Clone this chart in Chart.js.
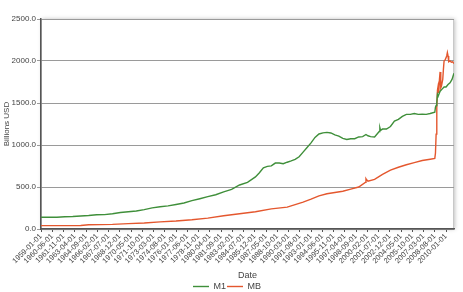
<!DOCTYPE html>
<html>
<head>
<meta charset="utf-8">
<script src="https://cdn.jsdelivr.net/npm/chart.js@4"></script>
<style>
  body { margin: 0; background: #fff; }
  #chart { display: block; }
</style>
</head>
<body>
<canvas id="chart" width="463" height="292"></canvas>
<script>
// M1 and monetary base, billions USD
const m1Dates = ['1959-01','1960-01','1961-01','1962-01','1963-01','1964-01','1965-01','1966-01','1967-01','1968-01',
  '1969-01','1970-01','1971-01','1972-01','1973-01','1974-01','1975-01','1976-01','1977-01','1978-01',
  '1979-01','1980-01','1981-01','1982-01','1983-01','1984-01','1985-01','1986-01','1986-07','1987-01',
  '1987-07','1988-01','1988-07','1989-01','1989-07','1990-01','1990-07','1991-01','1991-07','1992-01',
  '1992-07','1993-01','1993-07','1994-01','1994-07','1995-01','1995-07','1996-01','1996-07','1997-01',
  '1997-07','1998-01','1998-07','1999-01','1999-07','1999-12','2000-03','2000-07','2001-01','2001-08',
  '2001-09','2001-10','2002-01','2002-07','2003-01','2003-07','2004-01','2004-07','2005-01','2005-07',
  '2006-01','2006-07','2007-01','2007-07','2008-01','2008-08','2008-09','2008-10','2008-11','2008-12',
  '2009-01','2009-04','2009-07','2009-10','2010-01','2010-04','2010-07','2010-10','2010-12','2011-01'];
const m1Values = [139,140,140,145,148,154,160,169,171,182,
  197,205,214,230,251,265,275,292,310,337,
  360,385,408,442,472,524,556,620,670,728,
  745,752,785,786,777,795,810,828,860,915,
  970,1025,1090,1131,1145,1150,1143,1120,1105,1078,
  1065,1075,1075,1096,1100,1125,1110,1100,1095,1160,
  1205,1175,1190,1190,1220,1285,1305,1340,1365,1365,
  1375,1365,1367,1365,1375,1390,1450,1470,1510,1600,
  1580,1640,1665,1690,1690,1720,1740,1780,1830,1855];

const mbDates = ['1959-01','1964-01','1965-01','1968-01','1970-01','1972-01','1974-01','1976-01','1978-01','1980-01',
  '1982-01','1984-01','1986-01','1988-01','1990-01','1991-01','1992-01','1993-01','1994-01','1995-01',
  '1996-01','1997-01','1998-01','1999-01','1999-11','1999-12','2000-01','2000-03','2001-01','2002-01',
  '2003-01','2004-01','2005-01','2006-01','2007-01','2008-01','2008-08','2008-09','2008-10','2008-11',
  '2008-12','2009-01','2009-02','2009-03','2009-04','2009-05','2009-06','2009-08','2009-09','2009-10',
  '2009-12','2010-02','2010-03','2010-04','2010-05','2010-07','2010-09','2010-11','2011-01'];
const mbValues = [40,42,50,55,64,72,85,95,110,130,
  158,182,205,240,260,290,320,355,395,420,
  435,450,475,500,555,598,585,570,590,650,
  700,735,765,790,815,830,840,905,1130,1450,
  1650,1700,1620,1780,1870,1680,1700,1780,1900,2000,
  2020,2060,2100,2060,1990,2000,1985,1990,1970];

const yTicks = [0, 500, 1000, 1500, 2000, 2500];
const firstYear = 1959;
const tickStep = 17;   // months between date labels
const lastMonth = 624; // 2011-01

function monthIndex(d) {
  const [y, m] = d.split('-').map(Number);
  return (y - firstYear) * 12 + (m - 1);
}

function monthLabel(i) {
  const y = firstYear + Math.floor(i / 12);
  const m = (i % 12) + 1;
  return y + '-' + String(m).padStart(2, '0') + '-01';
}

function toPoints(dates, values) {
  return dates.map((d, i) => ({ x: monthIndex(d), y: values[i] }));
}

const xTicks = [];
for (let i = 0; i <= lastMonth; i += tickStep) xTicks.push(i);

// light frame with a soft shadow around the plot area
const frame = {
  id: 'frame',
  beforeDraw(chart) {
    const { ctx, chartArea: a } = chart;
    ctx.save();
    ctx.shadowColor = 'rgba(0,0,0,0.25)';
    ctx.shadowBlur = 4;
    ctx.shadowOffsetX = 1;
    ctx.shadowOffsetY = 0;
    ctx.fillStyle = '#fff';
    ctx.fillRect(a.left, a.top, a.right - a.left, a.bottom - a.top);
    ctx.restore();
    ctx.save();
    ctx.strokeStyle = '#c8c8c8';
    ctx.lineWidth = 1;
    ctx.strokeRect(a.left + 0.5, a.top + 0.5, a.right - a.left - 1, a.bottom - a.top);
    ctx.restore();
  }
};

const font = { family: 'Liberation Sans, Arial, sans-serif', size: 8 };

new Chart(document.getElementById('chart'), {
  type: 'line',
  data: {
    datasets: [
      {
        label: 'M1',
        data: toPoints(m1Dates, m1Values),
        borderColor: '#3f8f3a',
        backgroundColor: '#3f8f3a',
        borderWidth: 1.4,
        pointRadius: 0,
        tension: 0
      },
      {
        label: 'MB',
        data: toPoints(mbDates, mbValues),
        borderColor: '#e4572e',
        backgroundColor: '#e4572e',
        borderWidth: 1.4,
        pointRadius: 0,
        tension: 0
      }
    ]
  },
  options: {
    responsive: false,
    animation: false,
    layout: { padding: { top: 19, right: 9, left: 0, bottom: -9 } },
    plugins: {
      legend: {
        position: 'bottom',
        labels: {
          usePointStyle: true,
          pointStyle: 'line',
          pointStyleWidth: 16,
          boxHeight: 6,
          padding: 1,
          color: '#444',
          font: { family: font.family, size: 9 }
        }
      },
      tooltip: { enabled: false }
    },
    scales: {
      x: {
        type: 'linear',
        min: 0,
        max: lastMonth,
        afterBuildTicks: s => { s.ticks = xTicks.map(v => ({ value: v })); },
        afterFit: s => { s.height = 52; },
        ticks: {
          autoSkip: false,
          maxRotation: 45,
          minRotation: 45,
          padding: 0,
          color: '#444',
          font: { family: font.family, size: 7.5 },
          callback: v => monthLabel(v)
        },
        grid: { display: true, drawOnChartArea: false, tickLength: 3, color: '#555' },
        border: { color: '#555', width: 1.5 },
        title: { display: true, text: 'Date', color: '#444', font: { family: font.family, size: 9 }, padding: { top: 2, bottom: 0 } }
      },
      y: {
        min: 0,
        max: 2500,
        afterBuildTicks: s => { s.ticks = yTicks.map(v => ({ value: v })); },
        afterFit: s => { s.width = 41; },
        ticks: {
          padding: 1,
          color: '#444',
          font: font,
          callback: v => v.toFixed(1)
        },
        grid: { color: '#9a9a9a', lineWidth: 1, tickLength: 4 },
        border: { color: '#555', width: 1.5 },
        title: { display: true, text: 'Billions USD', color: '#444', font: font, padding: { top: 2, bottom: 0 } }
      }
    }
  },
  plugins: [frame]
});
</script>
</body>
</html>
